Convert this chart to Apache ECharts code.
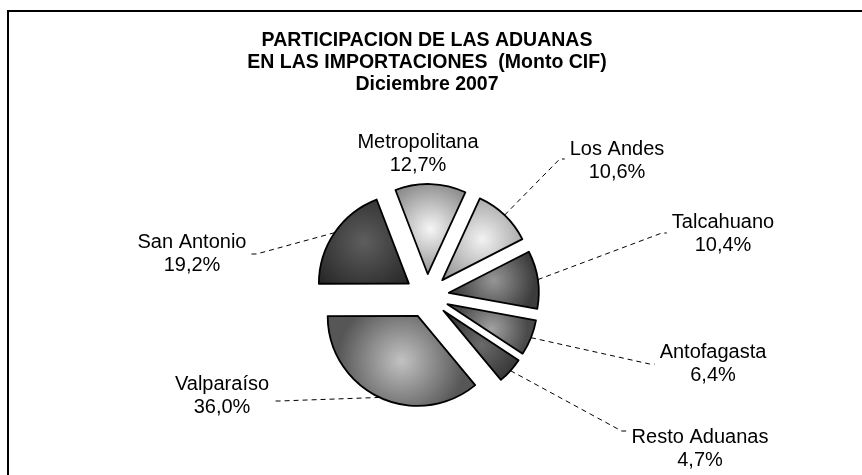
<!DOCTYPE html>
<html>
<head>
<meta charset="utf-8">
<title>Participación de las aduanas</title>
<script src="https://cdn.jsdelivr.net/npm/echarts@6/dist/echarts.min.js"></script>
<style>
    html, body { margin: 0; padding: 0; background: #fff; }
    #chart { width: 862px; height: 475px; }
</style>
</head>
<body>
<div id="chart"></div>
<script>
    // datos: participación (%) de cada aduana, en orden horario desde arriba
    var aduanas = ['Metropolitana', 'Los Andes', 'Talcahuano', 'Antofagasta', 'Resto Aduanas', 'Valparaíso', 'San Antonio'];
    var participacion = [12.7, 10.6, 10.4, 6.4, 4.7, 36.0, 19.2];
    var titulo = ['PARTICIPACION DE LAS ADUANAS', 'EN LAS IMPORTACIONES  (Monto CIF)', 'Diciembre 2007'];

    // sombreado de cada trozo: [centro, borde]
    var tonos = [
        ['#f6f6f6', '#888888'],
        ['#f2f2f2', '#8c8c8c'],
        ['#969696', '#3c3c3c'],
        ['#a2a2a2', '#4a4a4a'],
        ['#6a6a6a', '#2a2a2a'],
        ['#c2c2c2', '#565656'],
        ['#5e5e5e', '#262626']
    ];
    // centro de cada bloque de etiqueta y desplazamiento vertical del enganche de la guía
    var posEtiqueta = [[418, 154], [617, 161], [723, 234], [713, 364], [700, 449], [222, 396], [192, 254]];
    var enganche = [0, -2, -1, 0, -18, 5, 0];

    var fuente = '"Liberation Sans", Arial, sans-serif';
    var centro = [427, 296];
    var radio = 90;
    var separacion = 22;

    var trozos = aduanas.map(function (n, i) {
        return {
            name: n,
            value: participacion[i],
            selected: true,
            itemStyle: {
                color: {
                    type: 'radial', x: 0.5, y: 0.5, r: 0.7,
                    colorStops: [
                        { offset: 0, color: tonos[i][0] },
                        { offset: 1, color: tonos[i][1] }
                    ]
                }
            }
        };
    });
    // serie invisible del tamaño del pastel separado, solo para etiquetas
    var rotulos = aduanas.map(function (n, i) {
        var item = { name: n, value: participacion[i] };
        if (i === 0) item.labelLine = { show: false };
        return item;
    });

    var myChart = echarts.init(document.getElementById('chart'));
    var option = {
        backgroundColor: '#fff',
        animation: false,
        title: {
            text: titulo.join('\n'),
            left: 427,
            textAlign: 'center',
            top: 30,
            padding: 0,
            textStyle: {
                fontFamily: fuente,
                fontSize: 19.5,
                fontWeight: 'bold',
                lineHeight: 22,
                color: '#000'
            }
        },
        graphic: [{
            type: 'polyline',
            shape: { points: [[8, 475], [8, 11], [862, 11]] },
            style: { stroke: '#000', lineWidth: 2, fill: null }
        }],
        series: [{
            type: 'pie',
            center: centro,
            radius: radio,
            startAngle: 111,
            clockwise: true,
            selectedMode: 'multiple',
            selectedOffset: separacion,
            emphasis: { disabled: true },
            itemStyle: { borderColor: '#000', borderWidth: 1.8 },
            select: { itemStyle: { borderColor: '#000', borderWidth: 1.8 } },
            label: { show: false },
            labelLine: { show: false },
            data: trozos
        }, {
            type: 'pie',
            center: centro,
            radius: radio + separacion,
            startAngle: 111,
            clockwise: true,
            silent: true,
            selectedMode: false,
            avoidLabelOverlap: false,
            emphasis: { disabled: true },
            itemStyle: { color: 'rgba(0,0,0,0)', borderWidth: 0 },
            label: {
                show: true,
                position: 'outside',
                formatter: function (p) {
                    var pct = p.value.toFixed(1).replace('.', ',') + '%';
                    return '{t|' + p.name + '}\n{t|' + pct + '}';
                },
                rich: {
                    t: {
                        align: 'center',
                        fontFamily: fuente,
                        fontSize: 20,
                        lineHeight: 23,
                        color: '#000'
                    }
                }
            },
            labelLine: {
                show: true,
                length: 20,
                length2: 10,
                lineStyle: { color: '#000', width: 1, type: [5, 4] }
            },
            labelLayout: function (p) {
                var i = p.dataIndex;
                var spot = posEtiqueta[i];
                var out = { x: spot[0], y: spot[1], align: 'center', verticalAlign: 'middle' };
                var pts = p.labelLinePoints;
                if (pts && i !== 0) {
                    var half = p.labelRect.width / 2;
                    var side = spot[0] > pts[0][0] ? 1 : -1;
                    var endX = spot[0] - side * (half + 5);
                    var endY = spot[1] + enganche[i];
                    out.labelLinePoints = [pts[0], [endX - side * 5, endY], [endX, endY]];
                }
                return out;
            },
            data: rotulos
        }]
    };
    myChart.setOption(option);
</script>
</body>
</html>
